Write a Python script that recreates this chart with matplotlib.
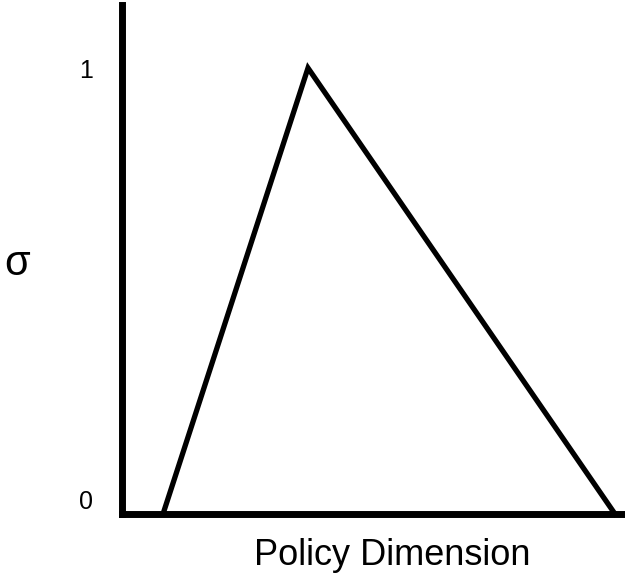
import matplotlib
matplotlib.use('Agg')
import matplotlib.pyplot as plt

plt.rcParams['font.family'] = ['Liberation Sans', 'DejaVu Sans']

# policy position vs sigma
policy = [0.082, 0.372, 0.986]
sigma = [0.0, 1.0, 0.0]
ytick_vals = [0, 1]
ytick_labels = ['0', '1']

fig = plt.figure(figsize=(6.25, 5.82), dpi=100)
ax = fig.add_axes([122/625, 68/582, 503/625, 509/582])

ax.plot(policy, sigma, color='black', linewidth=3.8, solid_joinstyle='miter', clip_on=False)

ax.set_xlim(0, 1.006)
ax.set_ylim(0, 509/446)

for s in ['top', 'right']:
    ax.spines[s].set_visible(False)
for s in ['left', 'bottom']:
    ax.spines[s].set_linewidth(5)
    ax.spines[s].set_capstyle('projecting')

ax.set_xticks([])
ax.set_yticks(ytick_vals)
ax.set_yticklabels(ytick_labels)
ax.tick_params(axis='y', length=0, pad=21, labelsize=18)
lbls = ax.get_yticklabels()
lbls[0].set_va('bottom')
lbls[1].set_va('center_baseline')

ax.set_xlabel('Policy Dimension', fontsize=26, va='center')
ax.xaxis.set_label_coords(0.537, -0.081)
ax.set_ylabel('σ', fontsize=30, rotation=0, va='center', ha='center')
ax.yaxis.set_label_coords(-0.209, 0.491)

fig.savefig('out.png', dpi=100)
